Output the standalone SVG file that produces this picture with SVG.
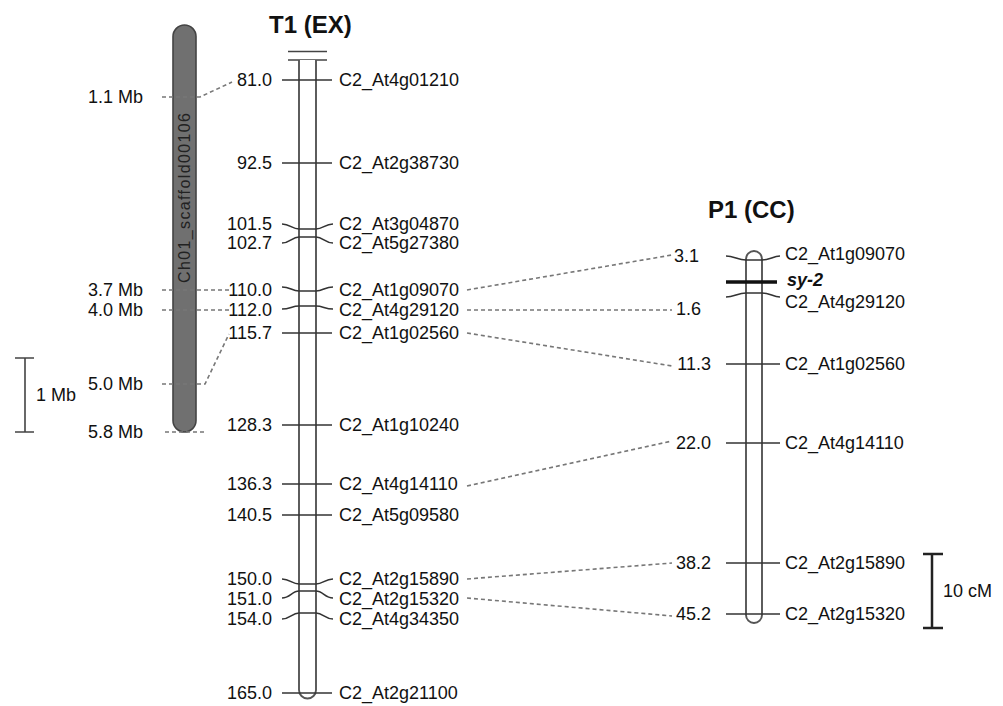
<svg xmlns="http://www.w3.org/2000/svg" width="1003" height="706" viewBox="0 0 1003 706">
<style>
text{font-family:"Liberation Sans",Arial,sans-serif;fill:#111}
.lbl{font-size:18px}
.l{text-anchor:end}
.title{font-size:24px;font-weight:bold}
.chr{fill:#fff;stroke:#555;stroke-width:1.9}
.tick{fill:none;stroke:#333;stroke-width:1.6}
.dash{fill:none;stroke:#777;stroke-width:1.6;stroke-dasharray:4 3}
.bar{fill:none;stroke:#444;stroke-width:1.6}
</style>
<rect width="1003" height="706" fill="#fff"/>

<g id="scaffold">
<rect x="173" y="25" width="23" height="407" rx="11.5" fill="#707070" stroke="#444" stroke-width="1.6"/>
<text transform="translate(190,198) rotate(-90)" text-anchor="middle" font-size="16" style="fill:#222" textLength="170" lengthAdjust="spacing">Ch01_scaffold00106</text>
<text class="lbl l" x="143" y="103">1.1 Mb</text>
<text class="lbl l" x="143" y="296">3.7 Mb</text>
<text class="lbl l" x="143" y="316">4.0 Mb</text>
<text class="lbl l" x="143" y="390">5.0 Mb</text>
<text class="lbl l" x="143" y="438">5.8 Mb</text>
</g>

<g id="scale-mb">
<path class="bar" d="M25,358 V432 M15,358 H34 M15,432 H34"/>
<text class="lbl" x="36" y="401">1 Mb</text>
</g>

<g id="T1">
<text class="title" x="269" y="33" font-size="25">T1 (EX)</text>
<path d="M288,51.5 H327 M288,60 H327" stroke="#444" stroke-width="1.6"/>
<path class="chr" d="M299,60 V690 A8.5,8.5 0 0 0 316,690 V60"/>
<g class="tick">
<path d="M282,80 H332"/>
<path d="M282,163 H332"/>
<path d="M282,224 C290,224 292,229 299,229 H316 C323,229 325,224 333,224"/>
<path d="M282,243 C290,243 292,237 299,237 H316 C323,237 325,243 333,243"/>
<path d="M282,287 C290,287 292,291 299,291 H316 C323,291 325,287 333,287"/>
<path d="M282,309 C290,309 292,306 299,306 H316 C323,306 325,309 333,309"/>
<path d="M282,333 H332"/>
<path d="M282,425 H332"/>
<path d="M282,484 H332"/>
<path d="M282,515 H332"/>
<path d="M282,579 C290,579 292,584 299,584 H316 C323,584 325,579 333,579"/>
<path d="M282,598 C290,598 292,591 299,591 H316 C323,591 325,598 333,598"/>
<path d="M282,619 C290,619 292,613 299,613 H316 C323,613 325,619 333,619"/>
<path d="M282,693 H332"/>
</g>
<g class="lbl">
<text class="l" x="272" y="86">81.0</text>
<text class="l" x="272" y="169">92.5</text>
<text class="l" x="272" y="230">101.5</text>
<text class="l" x="272" y="249">102.7</text>
<text class="l" x="272" y="296">110.0</text>
<text class="l" x="272" y="316">112.0</text>
<text class="l" x="272" y="339">115.7</text>
<text class="l" x="272" y="431">128.3</text>
<text class="l" x="272" y="490">136.3</text>
<text class="l" x="272" y="521">140.5</text>
<text class="l" x="272" y="585">150.0</text>
<text class="l" x="272" y="605">151.0</text>
<text class="l" x="272" y="625">154.0</text>
<text class="l" x="272" y="699">165.0</text>
<text x="339" y="86">C2_At4g01210</text>
<text x="339" y="169">C2_At2g38730</text>
<text x="339" y="230">C2_At3g04870</text>
<text x="339" y="249">C2_At5g27380</text>
<text x="339" y="296">C2_At1g09070</text>
<text x="339" y="316">C2_At4g29120</text>
<text x="339" y="339">C2_At1g02560</text>
<text x="339" y="431">C2_At1g10240</text>
<text x="339" y="490">C2_At4g14110</text>
<text x="339" y="521">C2_At5g09580</text>
<text x="339" y="585">C2_At2g15890</text>
<text x="339" y="605">C2_At2g15320</text>
<text x="339" y="625">C2_At4g34350</text>
<text x="339" y="699">C2_At2g21100</text>
</g>
</g>

<g id="P1">
<text class="title" x="708" y="218" font-size="25">P1 (CC)</text>
<rect class="chr" x="746" y="251" width="16" height="372" rx="8"/>
<g class="tick">
<path d="M726,256 C734,256 738,260 746,260 H762 C770,260 773,256 780,256"/>
<path d="M726,297 C734,297 738,293 746,293 H762 C770,293 773,297 780,297"/>
<path d="M726,364 H780"/>
<path d="M726,443 H780"/>
<path d="M726,563 H780"/>
<path d="M726,614 H780"/>
</g>
<path d="M726,282 H777" stroke="#111" stroke-width="3.5"/>
<g class="lbl">
<text class="l" x="699" y="262">3.1</text>
<text class="l" x="701" y="315">1.6</text>
<text class="l" x="711" y="370">11.3</text>
<text class="l" x="711" y="449">22.0</text>
<text class="l" x="711" y="569">38.2</text>
<text class="l" x="711" y="620">45.2</text>
<text x="785" y="260">C2_At1g09070</text>
<text x="787" y="286" font-weight="bold" font-style="italic">sy-2</text>
<text x="785" y="308">C2_At4g29120</text>
<text x="785" y="370">C2_At1g02560</text>
<text x="785" y="449">C2_At4g14110</text>
<text x="785" y="569">C2_At2g15890</text>
<text x="785" y="620">C2_At2g15320</text>
</g>
</g>

<g id="scale-cm">
<path d="M932,554 V628 M923,554 H943 M923,628 H943" fill="none" stroke="#222" stroke-width="2.5"/>
<text class="lbl" x="943" y="597">10 cM</text>
</g>

<g id="connectors">
<path class="dash" d="M162,97 H200 L232,82"/>
<path class="dash" d="M162,290 H229"/>
<path class="dash" d="M162,310 H229"/>
<path class="dash" d="M162,384 H205 L229,334"/>
<path class="dash" d="M165,432 H207"/>
<path class="dash" d="M467,290 L672,255"/>
<path class="dash" d="M467,310 L672,310"/>
<path class="dash" d="M467,333 L672,366"/>
<path class="dash" d="M467,486 L672,441"/>
<path class="dash" d="M467,579 L672,563"/>
<path class="dash" d="M467,598 L672,616"/>
</g>
</svg>
